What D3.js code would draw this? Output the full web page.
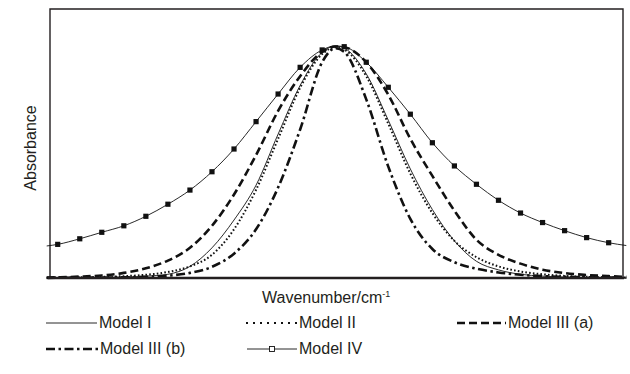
<!DOCTYPE html>
<html>
<head>
<meta charset="utf-8">
<script src="https://cdn.jsdelivr.net/npm/d3@7/dist/d3.min.js"></script>
<style>
  html, body { margin: 0; padding: 0; background: #fff; }
  svg { display: block; }
  text { font-family: "Liberation Sans", Arial, Helvetica, sans-serif; fill: #231f20; }
</style>
</head>
<body>
<svg id="chart" width="630" height="374"></svg>
<script>
// Relative wavenumber grid shared by all band profiles
const wavenumbers = [-5, 0, 10, 20, 30, 40, 50, 60, 70, 80, 90, 100, 110, 120, 126,
                     130, 140, 150, 160, 170, 180, 190, 200, 210, 220, 230, 240, 250, 258];

// Normalised absorbance for each model
const modelI    = [0.000, 0.000, 0.001, 0.002, 0.004, 0.008, 0.016, 0.050, 0.130, 0.250, 0.400, 0.620, 0.830, 0.973, 1.000,
                   0.991, 0.880, 0.680, 0.470, 0.295, 0.160, 0.072, 0.035, 0.016, 0.008, 0.004, 0.002, 0.001, 0.000];
const modelII   = [0.001, 0.002, 0.003, 0.005, 0.008, 0.014, 0.026, 0.050, 0.100, 0.210, 0.380, 0.600, 0.820, 0.965, 0.995,
                   0.985, 0.870, 0.665, 0.450, 0.280, 0.160, 0.090, 0.050, 0.028, 0.016, 0.009, 0.005, 0.003, 0.002];
const modelIIIa = [0.002, 0.003, 0.006, 0.011, 0.022, 0.042, 0.075, 0.130, 0.225, 0.360, 0.530, 0.720, 0.870, 0.975, 0.998,
                   0.995, 0.930, 0.790, 0.600, 0.440, 0.290, 0.165, 0.100, 0.062, 0.036, 0.021, 0.013, 0.008, 0.005];
const modelIIIb = [0.000, 0.001, 0.001, 0.002, 0.003, 0.005, 0.010, 0.022, 0.048, 0.105, 0.210, 0.390, 0.640, 0.930, 0.990,
                   0.975, 0.770, 0.480, 0.255, 0.125, 0.068, 0.040, 0.024, 0.014, 0.008, 0.005, 0.003, 0.002, 0.001];
const modelIV   = [0.138, 0.145, 0.169, 0.197, 0.225, 0.266, 0.318, 0.379, 0.458, 0.556, 0.674, 0.793, 0.908, 0.983, 1.000,
                   0.997, 0.930, 0.822, 0.706, 0.583, 0.483, 0.404, 0.335, 0.280, 0.239, 0.204, 0.174, 0.152, 0.140];

// Wavenumbers carrying a square marker on Model IV
const markerWavenumbers = [0, 10, 20, 30, 40, 50, 60, 70, 80, 90, 100, 110, 120,
                           130, 140, 150, 160, 170, 180, 190, 200, 210, 220, 230, 240, 250];

const labels = ["Model I", "Model II", "Model III (a)", "Model III (b)", "Model IV"];

const svg = d3.select("#chart");
const frame = { left: 50, top: 9, right: 623, bottom: 278 };

const x = d3.scaleLinear().domain([-3.5, 256.5]).range([frame.left, frame.right]);
const y = d3.scaleLinear().domain([0, 1]).range([frame.bottom, 46]);

const styles = [
  { width: 0.9, dash: null,            legendDash: null },
  { width: 2.0, dash: "1.6,2.2",       legendDash: "2,5" },
  { width: 2.6, dash: "8,4",           legendDash: "8,4" },
  { width: 2.6, dash: "9,3.5,2.5,3.5", legendDash: "9,3.5,2.5,3.5" },
  { width: 0.9, dash: null,            legendDash: null }
];

const seriesValues = [modelI, modelII, modelIIIa, modelIIIb, modelIV];
const series = seriesValues.map((vals, i) => ({
  name: labels[i],
  style: styles[i],
  points: wavenumbers.map((w, j) => ({ w, a: vals[j] }))
}));

const line = d3.line()
  .x(d => x(d.w))
  .y(d => y(d.a))
  .curve(d3.curveMonotoneX);

// Plot frame (top, left, right)
svg.append("path")
  .attr("d", `M${frame.left},${frame.bottom}V${frame.top}H${frame.right}V${frame.bottom}`)
  .attr("fill", "none")
  .attr("stroke", "#231f20")
  .attr("stroke-width", 1.4);

// Band profiles
const g = svg.append("g");
series.forEach(s => {
  g.append("path")
    .datum(s.points)
    .attr("d", line)
    .attr("fill", "none")
    .attr("stroke", "#111")
    .attr("stroke-width", s.style.width)
    .attr("stroke-dasharray", s.style.dash);
});

// Square markers on Model IV
const ivPoints = series[4].points.filter(p => markerWavenumbers.includes(p.w));
g.selectAll("rect.mk")
  .data(ivPoints)
  .join("rect")
  .attr("class", "mk")
  .attr("x", d => x(d.w) - 2.6)
  .attr("y", d => y(d.a) - 2.6)
  .attr("width", 5.2)
  .attr("height", 5.2)
  .attr("fill", "#111");

// Bottom axis (wavenumber), no ticks
const xAxis = svg.append("g")
  .attr("transform", `translate(0,${frame.bottom})`)
  .call(d3.axisBottom(x).tickValues([]).tickSizeOuter(0));
xAxis.select(".domain")
  .attr("stroke", "#231f20")
  .attr("stroke-width", 2.6)
  .attr("d", `M${frame.left - 2},0H${frame.right + 1}`);

// Axis titles
const xTitle = svg.append("text")
  .attr("x", 262)
  .attr("y", 303)
  .style("font-size", "16px");
xTitle.append("tspan").text("Wavenumber/cm");
xTitle.append("tspan").attr("dy", -6).style("font-size", "9px").text("-1");

svg.append("text")
  .attr("transform", "translate(36,148) rotate(-90)")
  .attr("text-anchor", "middle")
  .style("font-size", "16px")
  .text("Absorbance");

// Legend
const legendItems = [
  { i: 0, x: 46,  y: 328, len: 51 },
  { i: 1, x: 246, y: 328, len: 51 },
  { i: 2, x: 457, y: 328, len: 49 },
  { i: 3, x: 46,  y: 354, len: 52 },
  { i: 4, x: 247, y: 354, len: 50 }
];
const legend = svg.append("g");
legendItems.forEach(it => {
  const s = series[it.i];
  const ly = it.y - 5;
  legend.append("line")
    .attr("x1", it.x).attr("x2", it.x + it.len)
    .attr("y1", ly).attr("y2", ly)
    .attr("stroke", "#111")
    .attr("stroke-width", s.style.width)
    .attr("stroke-dasharray", s.style.legendDash);
  if (it.i === 4) {
    legend.append("rect")
      .attr("x", it.x + it.len / 2 - 2.5).attr("y", ly - 2.5)
      .attr("width", 5).attr("height", 5)
      .attr("fill", "#fff").attr("stroke", "#111").attr("stroke-width", 0.9);
  }
  legend.append("text")
    .attr("x", it.x + it.len + 2)
    .attr("y", it.y)
    .style("font-size", "16px")
    .text(s.name);
});
</script>
</body>
</html>
